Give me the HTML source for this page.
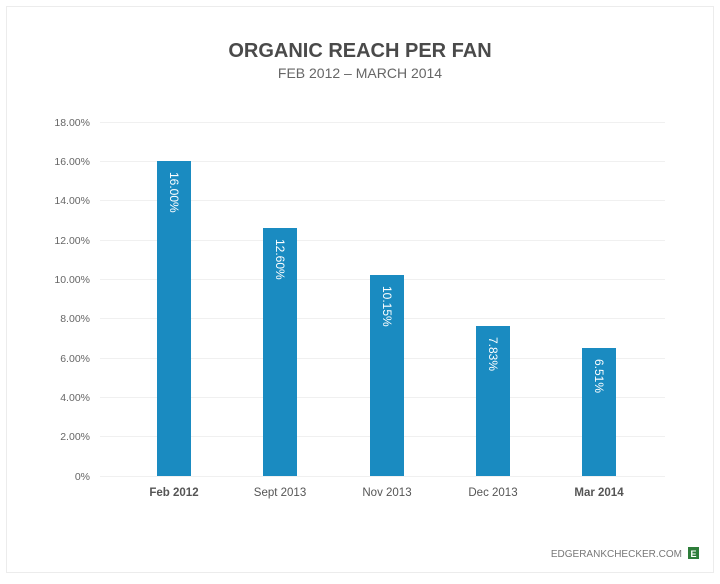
<!DOCTYPE html>
<html><head><style>
body{margin:0;background:#fff;width:720px;height:579px;overflow:hidden;font-family:"Liberation Sans",sans-serif}
</style></head><body>
<svg width="720" height="579" xmlns="http://www.w3.org/2000/svg" font-family="Liberation Sans, sans-serif">
<rect x="6.5" y="6.5" width="707" height="566" fill="#fff" stroke="#ececec"/>
<text x="360" y="57" text-anchor="middle" font-size="20" font-weight="bold" fill="#4a4a4a">ORGANIC REACH PER FAN</text>
<text x="360" y="78" text-anchor="middle" font-size="14" fill="#666">FEB 2012 – MARCH 2014</text>
<g stroke="#f0f0f0" stroke-width="1">
<line x1="100" x2="665" y1="122.5" y2="122.5"/><line x1="100" x2="665" y1="161.5" y2="161.5"/>
<line x1="100" x2="665" y1="200.5" y2="200.5"/><line x1="100" x2="665" y1="240.5" y2="240.5"/>
<line x1="100" x2="665" y1="279.5" y2="279.5"/><line x1="100" x2="665" y1="318.5" y2="318.5"/>
<line x1="100" x2="665" y1="358.5" y2="358.5"/><line x1="100" x2="665" y1="397.5" y2="397.5"/>
<line x1="100" x2="665" y1="436.5" y2="436.5"/><line x1="100" x2="665" y1="476.5" y2="476.5"/>
</g>
<g font-size="10.5" fill="#666" text-anchor="end">
<text x="90" y="126">18.00%</text><text x="90" y="165">16.00%</text><text x="90" y="204">14.00%</text>
<text x="90" y="244">12.00%</text><text x="90" y="283">10.00%</text><text x="90" y="322">8.00%</text>
<text x="90" y="362">6.00%</text><text x="90" y="401">4.00%</text><text x="90" y="440">2.00%</text>
<text x="90" y="480">0%</text>
</g>
<g fill="#1a8bc1">
<rect x="157" y="161" width="34" height="315"/>
<rect x="263" y="228" width="34" height="248"/>
<rect x="370" y="275" width="34" height="201"/>
<rect x="476" y="326" width="34" height="150"/>
<rect x="582" y="348" width="34" height="128"/>
</g>
<g fill="#fff" font-size="12">
<text transform="translate(170,172) rotate(90)">16.00%</text>
<text transform="translate(276,239) rotate(90)">12.60%</text>
<text transform="translate(383,286) rotate(90)">10.15%</text>
<text transform="translate(489,337) rotate(90)">7.83%</text>
<text transform="translate(595,359) rotate(90)">6.51%</text>
</g>
<g font-size="11.5" fill="#555" text-anchor="middle">
<text x="174" y="496" font-weight="bold">Feb 2012</text>
<text x="280" y="496">Sept 2013</text>
<text x="387" y="496">Nov 2013</text>
<text x="493" y="496">Dec 2013</text>
<text x="599" y="496" font-weight="bold">Mar 2014</text>
</g>
<text x="682" y="557" text-anchor="end" font-size="10" fill="#777">EDGERANKCHECKER.COM</text>
<rect x="688" y="547" width="11" height="12" fill="#2e7d3a"/>
<text x="693.5" y="557" text-anchor="middle" font-size="9" font-weight="bold" fill="#fff">E</text>
</svg>
</body></html>
